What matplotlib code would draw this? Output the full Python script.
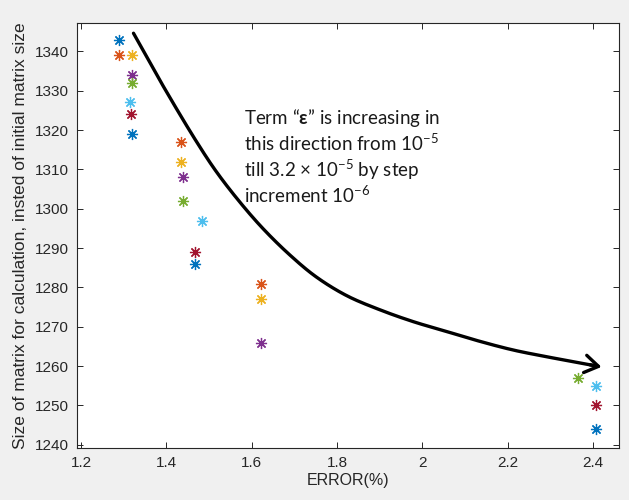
import numpy as np
import matplotlib
matplotlib.use("Agg")
import matplotlib.pyplot as plt

# MATLAB default colour order, cycled point by point
colors = ['#0072BD', '#D95319', '#EDB120', '#7E2F8E', '#77AC30', '#4DBEEE', '#A2142F']

# points
err = [1.289, 1.289, 1.319, 1.319, 1.319, 1.315, 1.316, 1.319,
       1.434, 1.434, 1.438, 1.438, 1.484, 1.467, 1.467,
       1.623, 1.623, 1.623, 2.365, 2.407, 2.407, 2.408]
msize = [1343, 1339, 1339, 1334, 1332, 1327, 1324, 1319,
         1317, 1312, 1308, 1302, 1297, 1289, 1286,
         1281, 1277, 1266, 1257, 1255, 1250, 1244]

xticks = [1.2, 1.4, 1.6, 1.8, 2.0, 2.2, 2.4]
xticklabels = ['1.2', '1.4', '1.6', '1.8', '2', '2.2', '2.4']
yticks = list(range(1240, 1341, 10))

# hand-drawn arrow guide points (data coords)
arrow_x = [1.323, 1.393, 1.471, 1.518, 1.573, 1.627, 1.690, 1.751, 1.823,
           1.901, 1.979, 2.057, 2.135, 2.213, 2.291, 2.370, 2.420]
arrow_y = [1344.6, 1331.1, 1317.0, 1309.3, 1301.6, 1294.9, 1288.2, 1282.7, 1277.9,
           1274.3, 1271.3, 1268.8, 1266.3, 1264.1, 1262.4, 1260.8, 1259.8]

note_lines = ['Term \u201c$\\mathbf{\\epsilon}$\u201d is increasing in',
              'this direction from 10$^{\u22125}$',
              'till 3.2 \u00d7 10$^{\u22125}$ by step',
              'increment 10$^{\u22126}$']
note_y = [1321.5, 1314.6, 1308.0, 1301.6]


def smooth(px, py, n=16, sx=426.7, sy=3.935):
    # centripetal Catmull-Rom through the guide points (in roughly pixel units)
    p = np.column_stack([np.array(px) * sx, np.array(py) * sy])
    p = np.vstack([2 * p[0] - p[1], p, 2 * p[-1] - p[-2]])
    out = []
    for i in range(1, len(p) - 2):
        P0, P1, P2, P3 = p[i - 1], p[i], p[i + 1], p[i + 2]
        t0 = 0.0
        t1 = t0 + np.linalg.norm(P1 - P0) ** 0.5
        t2 = t1 + np.linalg.norm(P2 - P1) ** 0.5
        t3 = t2 + np.linalg.norm(P3 - P2) ** 0.5
        for t in np.linspace(t1, t2, n, endpoint=False):
            A1 = (t1 - t) / (t1 - t0) * P0 + (t - t0) / (t1 - t0) * P1
            A2 = (t2 - t) / (t2 - t1) * P1 + (t - t1) / (t2 - t1) * P2
            A3 = (t3 - t) / (t3 - t2) * P2 + (t - t2) / (t3 - t2) * P3
            B1 = (t2 - t) / (t2 - t0) * A1 + (t - t0) / (t2 - t0) * A2
            B2 = (t3 - t) / (t3 - t1) * A2 + (t - t1) / (t3 - t1) * A3
            out.append((t2 - t) / (t2 - t1) * B1 + (t - t1) / (t2 - t1) * B2)
    out.append(p[-2])
    out = np.array(out)
    return out[:, 0] / sx, out[:, 1] / sy


plt.rcParams['font.family'] = ['Liberation Sans', 'DejaVu Sans']
plt.rcParams['mathtext.fontset'] = 'custom'
plt.rcParams['mathtext.rm'] = 'Lato'
plt.rcParams['mathtext.bf'] = 'Lato:bold'
plt.rcParams['mathtext.it'] = 'Lato:italic'

fig = plt.figure(figsize=(6.29, 5.0), dpi=100, facecolor='#f0f0f0')
ax = fig.add_axes([77/629, 1-448/500, (619-77)/629, (448-23)/500])

for i in range(len(err)):
    ax.plot(err[i], msize[i], linestyle='none', marker=(8, 2, 0), markersize=8,
            markeredgewidth=0.9, color=colors[i % len(colors)])

cx, cy = smooth(arrow_x, arrow_y)
ax.plot(cx[:-3], cy[:-3], color='black', lw=2.4, solid_capstyle='round')
ax.annotate('', xy=(cx[-1], cy[-1]), xytext=(cx[-10], cy[-10]),
            arrowprops=dict(arrowstyle='->,head_length=0.65,head_width=0.42',
                            mutation_scale=15, lw=2.4, color='black',
                            shrinkA=0, shrinkB=0))

for line, yy in zip(note_lines, note_y):
    ax.text(1.582, yy, line, fontsize=13.5, family=['Lato', 'DejaVu Sans'],
            color='#1a1a1a', va='baseline', ha='left')

ax.set_xlim(1.1906, 2.461)
ax.set_ylim(1239.2, 1347.2)
ax.set_xticks(xticks)
ax.set_xticklabels(xticklabels)
ax.set_yticks(yticks)

axcol = '#262626'
ax.tick_params(direction='in', top=True, right=True, length=4, width=0.7,
               colors=axcol, labelsize=11, pad=6)
for s in ax.spines.values():
    s.set_color(axcol)
    s.set_linewidth(0.8)

ax.set_xlabel('ERROR(%)', fontsize=11.5, color=axcol, labelpad=2)
ax.set_ylabel('Size of matrix for calculation, insted of initial matrix size',
              fontsize=12.5, color=axcol, labelpad=5)

fig.savefig('out.png', dpi=100, facecolor=fig.get_facecolor())
